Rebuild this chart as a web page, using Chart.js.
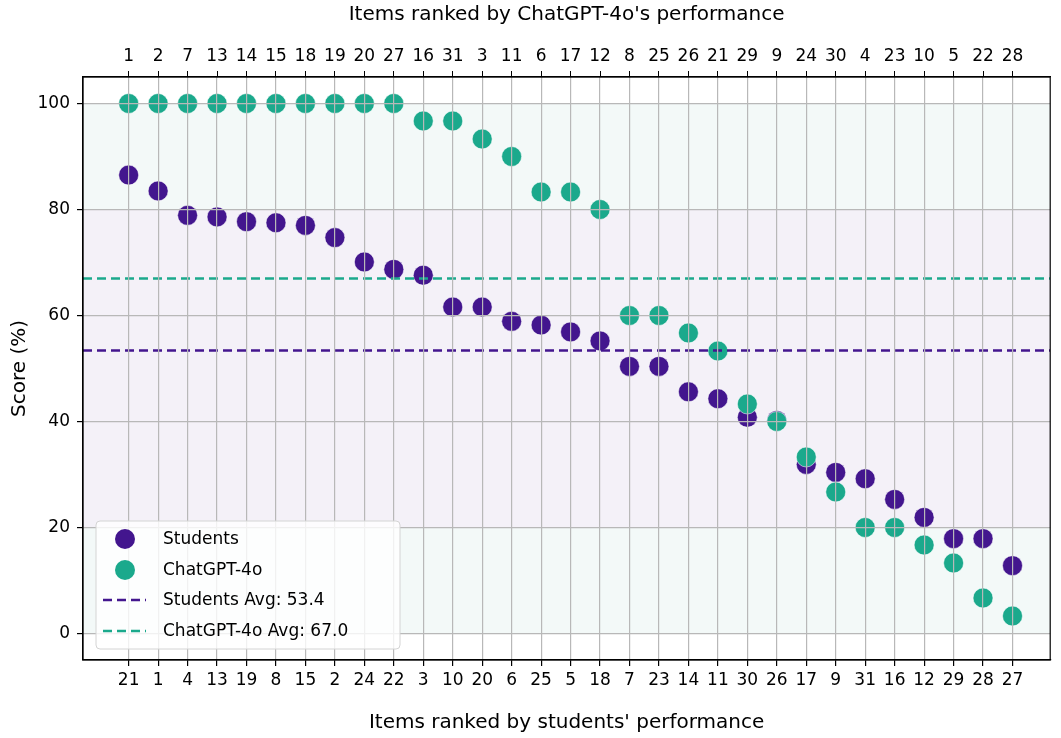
<!DOCTYPE html>
<html>
<head>
<meta charset="utf-8">
<script src="https://cdn.jsdelivr.net/npm/chart.js@4.4.1/dist/chart.umd.min.js"></script>
<style>
  body { margin: 0; background: #fff; }
  #wrap { width: 1061px; height: 738px; }
</style>
</head>
<body>
<div id="wrap"><canvas id="chart" width="1061" height="738"></canvas></div>
<script>
// items ranked by students (bottom axis) and by ChatGPT-4o (top axis)
const studentItems = [21, 1, 4, 13, 19, 8, 15, 2, 24, 22, 3, 10, 20, 6, 25, 5, 18, 7, 23, 14, 11, 30, 26, 17, 9, 31, 16, 12, 29, 28, 27];
const gptItems = [1, 2, 7, 13, 14, 15, 18, 19, 20, 27, 16, 31, 3, 11, 6, 17, 12, 8, 25, 26, 21, 29, 9, 24, 30, 4, 23, 10, 5, 22, 28];

const studentScores = [86.5, 83.5, 78.9, 78.6, 77.7, 77.5, 77.0, 74.7, 70.1, 68.7, 67.6, 61.6, 61.6, 58.9, 58.2, 56.9, 55.2, 50.4, 50.4, 45.6, 44.3, 40.8, 40.2, 31.9, 30.4, 29.2, 25.3, 21.9, 17.9, 17.9, 12.8];
const gptScores = [100, 100, 100, 100, 100, 100, 100, 100, 100, 100, 96.7, 96.7, 93.3, 90.0, 83.3, 83.3, 80.0, 60.0, 60.0, 56.7, 53.3, 43.3, 40.0, 33.3, 26.7, 20.0, 20.0, 16.7, 13.3, 6.7, 3.3];

const studentAvg = 53.4;
const gptAvg = 67.0;
const yTicks = [0, 20, 40, 60, 80, 100];

const purple = '#43168e';
const teal = '#1ba98c';
const xMin = -1.55, xMax = 31.28;

const positions = studentItems.map((_, i) => i);

// coloured bands behind the points
const bands = {
  id: 'bands',
  beforeDatasetsDraw(chart) {
    const { ctx, chartArea: a, scales: { y } } = chart;
    ctx.save();
    const fill = (from, to, color) => {
      const top = y.getPixelForValue(to), bot = y.getPixelForValue(from);
      ctx.fillStyle = color;
      ctx.fillRect(a.left, top, a.right - a.left, bot - top);
    };
    fill(80, 100, '#f3f9f8');
    fill(20, 80, '#f4f1f8');
    fill(0, 20, '#f3f9f8');
    ctx.restore();
  }
};

// box around the axes and the legend inside it
const frameAndLegend = {
  id: 'frameAndLegend',
  afterDraw(chart) {
    const { ctx, chartArea: a } = chart;
    ctx.save();
    ctx.strokeStyle = '#000';
    ctx.lineWidth = 1.2;
    ctx.strokeRect(a.left, a.top, a.right - a.left, a.bottom - a.top);

    const bx = 96, by = 521, bw = 304, bh = 128;
    ctx.beginPath();
    ctx.roundRect(bx, by, bw, bh, 4);
    ctx.fillStyle = 'rgba(255,255,255,0.8)';
    ctx.fill();
    ctx.strokeStyle = '#d4d4d4';
    ctx.lineWidth = 1;
    ctx.stroke();

    const items = [
      { label: 'Students', color: purple, kind: 'dot', y: 539 },
      { label: 'ChatGPT-4o', color: teal, kind: 'dot', y: 570 },
      { label: 'Students Avg: ' + studentAvg.toFixed(1), color: purple, kind: 'dash', y: 600 },
      { label: 'ChatGPT-4o Avg: ' + gptAvg.toFixed(1), color: teal, kind: 'dash', y: 631 }
    ];
    ctx.font = '17px "DejaVu Sans"';
    ctx.textBaseline = 'middle';
    items.forEach(it => {
      if (it.kind === 'dot') {
        ctx.beginPath();
        ctx.arc(125, it.y, 10, 0, Math.PI * 2);
        ctx.fillStyle = it.color;
        ctx.fill();
      } else {
        ctx.beginPath();
        ctx.setLineDash([9, 5]);
        ctx.strokeStyle = it.color;
        ctx.lineWidth = 2.5;
        ctx.moveTo(103, it.y);
        ctx.lineTo(146, it.y);
        ctx.stroke();
        ctx.setLineDash([]);
      }
      ctx.fillStyle = '#000';
      ctx.fillText(it.label, 163, it.y + 1);
    });
    ctx.restore();
  }
};

const pointStyle = color => ({
  backgroundColor: color,
  borderColor: 'rgba(255,255,255,0.7)',
  borderWidth: 0.8,
  pointRadius: 10,
  pointHoverRadius: 10
});

const avgLine = (value, color, order) => ({
  type: 'scatter',
  data: [{ x: xMin, y: value }, { x: xMax, y: value }],
  showLine: true,
  borderColor: color,
  borderWidth: 2.5,
  borderDash: [9, 5],
  pointRadius: 0,
  order: order
});

const tickFont = { family: 'DejaVu Sans', size: 17 };
const titleFont = { family: 'DejaVu Sans', size: 20 };

new Chart(document.getElementById('chart'), {
  type: 'scatter',
  data: {
    datasets: [
      Object.assign({ label: 'Students', data: positions.map(i => ({ x: i, y: studentScores[i] })), order: 4 }, pointStyle(purple)),
      Object.assign({ label: 'ChatGPT-4o', data: positions.map(i => ({ x: i, y: gptScores[i] })), order: 3 }, pointStyle(teal)),
      Object.assign({ label: 'Students Avg' }, avgLine(studentAvg, purple, 2)),
      Object.assign({ label: 'ChatGPT-4o Avg' }, avgLine(gptAvg, teal, 1))
    ]
  },
  options: {
    responsive: false,
    animation: false,
    devicePixelRatio: 1,
    layout: { padding: { left: 0, right: 3, top: 0, bottom: 0 } },
    plugins: { legend: { display: false }, tooltip: { enabled: false } },
    scales: {
      x: {
        type: 'linear', position: 'bottom', min: xMin, max: xMax,
        afterBuildTicks: s => { s.ticks = positions.map(v => ({ value: v })); },
        afterFit: s => { s.height = 78; },
        ticks: { color: '#000', font: tickFont, padding: 4, autoSkip: false, maxRotation: 0,
          callback: v => studentItems[v] },
        grid: { z: 1, color: '#b8b8b8', lineWidth: 1.2, tickColor: '#000', tickLength: 6 },
        border: { color: '#000', width: 1.2, z: 2 },
        title: { display: true, text: "Items ranked by students' performance", color: '#000', font: titleFont, padding: 3 }
      },
      x2: {
        type: 'linear', position: 'top', min: xMin, max: xMax,
        afterBuildTicks: s => { s.ticks = positions.map(v => ({ value: v })); },
        afterFit: s => { s.height = 77; },
        ticks: { color: '#000', font: tickFont, padding: 4, autoSkip: false, maxRotation: 0,
          callback: v => gptItems[v] },
        grid: { z: 1, drawOnChartArea: false, color: '#000', tickColor: '#000', tickLength: 6 },
        border: { color: '#000', width: 1.2, z: 2 },
        title: { display: true, text: "Items ranked by ChatGPT-4o's performance", color: '#000', font: titleFont, padding: 3 }
      },
      y: {
        min: -5, max: 105,
        afterBuildTicks: s => { s.ticks = yTicks.map(v => ({ value: v })); },
        afterFit: s => { s.width = 83; },
        ticks: { color: '#000', font: tickFont, padding: 7 },
        grid: { z: 1, color: '#b8b8b8', lineWidth: 1.2, tickColor: '#000', tickLength: 6 },
        border: { color: '#000', width: 1.2, z: 2 },
        title: { display: true, text: 'Score (%)', color: '#000', font: titleFont, padding: 8 }
      }
    }
  },
  plugins: [bands, frameAndLegend]
});
</script>
</body>
</html>
